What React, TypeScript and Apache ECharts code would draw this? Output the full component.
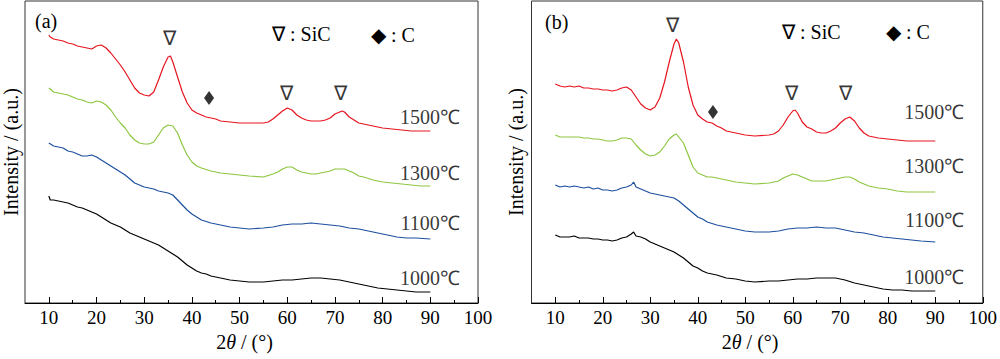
import React, { useEffect, useRef } from "react";
import * as echarts from "echarts";

const FONT = "Liberation Serif";

const XTICKS = [10, 20, 30, 40, 50, 60, 70, 80, 90, 100];
const XMINOR = [15, 25, 35, 45, 55, 65, 75, 85, 95];
const TEMPS = ["1500℃", "1300℃", "1100℃", "1000℃"];
const COLORS = ["#e6141e", "#8dc63f", "#1d4f9e", "#000000"];

// Panel (a)
const a1500 = [[10,268],[10.3,266],[11,264],[12,263],[13,262],[14,260],[15,259],[16,257],[17,256],[18,255],[19,254],[20,257],[21,258],[22,255],[23,250],[24,244],[25,238],[26,231],[27,223],[28,215],[29,210],[30,208],[31,207],[32,211],[33,223],[34,236],[35,246],[35.5,247],[36,241],[37,226],[38,211],[39,200],[40,193],[41,190],[42,188],[43,186],[44,185],[45,184],[46,182],[48,181],[50,180],[52,180],[54,180],[55,180],[56,181],[57,184],[58,188],[59,192],[60,195],[61,193],[62,188],[63,185],[64,183],[65,182],[66,182],[67,182],[68,183],[69,185],[70,189],[71,191],[71.5,192],[72,191],[73,186],[74,183],[75,180],[76,179],[78,177],[80,175],[82,174],[84,173],[86,172],[88,172],[90,172]];
const a1300 = [[10,215],[11,211],[12,210],[13,209],[14,208],[15,206],[16,204],[17,203],[18,201],[19,200],[20,202],[21,201],[22,198],[23,193],[24,186],[25,180],[26,175],[27,168],[28,163],[29,160],[30,159],[31,159],[32,161],[33,168],[34,175],[35,178],[36,177],[37,170],[38,158],[39,148],[40,141],[41,137],[42,135],[44,132],[46,130],[48,129],[50,128],[52,127],[55,126],[57,129],[58,131],[59,134],[60,136],[61,136],[62,133],[63,131],[64,130],[65,129],[66,129],[67,130],[68,131],[69,132],[70,134],[71,134],[72,134],[73,132],[74,130],[75,127],[76,126],[78,123],[80,121],[82,120],[84,119],[86,118],[88,117],[90,117]];
const a1100 = [[10,160],[11,157],[12,156],[13,155],[14,152],[15,151],[16,149],[17,147],[18,147],[19,148],[20,146],[21,143],[22,140],[23,137],[24,134],[25,131],[26,128],[27,124],[28,120],[29,118],[30,116],[31,115],[32,114],[33,112],[34,111],[35,110],[36,108],[37,103],[38,98],[39,93],[40,89],[41,86],[42,83],[44,80],[46,78],[48,76],[50,75],[52,74],[55,75],[57,76],[59,78],[61,79],[63,79],[65,80],[67,79],[69,78],[71,77],[73,75],[75,74],[77,72],[79,70],[81,68],[83,66],[85,65],[87,65],[90,64]];
const a1000 = [[10,107],[10.3,103],[11,103],[12,102],[13,101],[14,100],[15,98],[16,96],[17,95],[18,93],[19,91],[20,89],[21,86],[22,83],[23,80],[24,78],[25,76],[26,73],[27,70],[28,68],[29,66],[30,64],[31,62],[32,60],[33,58],[34,55],[35,52],[36,49],[37,46],[38,42],[39,38],[40,35],[41,32],[42,30],[43,29],[44,27],[46,25],[48,23],[50,22],[52,21],[55,21],[57,22],[59,23],[61,23],[63,24],[65,25],[67,25],[69,24],[71,23],[73,21],[75,19],[77,17],[79,15],[81,14],[83,13],[85,12],[87,11],[90,11]];

// Panel (b)
const b1500 = [[10,219],[11,217],[12,216],[13,217],[14,216],[15,217],[16,215],[17,215],[18,214],[19,214],[20,213],[21,213],[22,212],[23,213],[24,215],[25,216],[26,213],[27,206],[28,199],[29,195],[30,193],[31,196],[32,205],[33,221],[34,241],[35,259],[35.5,264],[36,260],[37,241],[38,216],[39,198],[40,188],[41,184],[42,181],[43,180],[44,177],[45,175],[46,172],[47,171],[48,170],[50,168],[52,167],[55,168],[56,169],[57,172],[58,178],[59,186],[60,192],[60.5,193],[61,190],[62,181],[63,176],[64,174],[65,171],[66,170],[67,170],[68,172],[69,175],[70,180],[71,184],[72,186],[73,182],[74,175],[75,170],[76,167],[78,165],[80,164],[82,163],[84,162],[86,162],[88,162],[90,162]];
const b1300 = [[10,168],[11,166],[12,166],[13,166],[14,166],[15,166],[16,165],[17,165],[18,164],[19,164],[20,163],[21,162],[22,162],[23,163],[24,165],[25,165],[26,164],[27,158],[28,153],[29,149],[30,147],[31,148],[32,151],[33,157],[34,164],[35,168],[35.5,169],[36,166],[37,160],[38,148],[39,136],[40,130],[41,128],[42,126],[43,126],[44,125],[46,123],[48,121],[50,120],[52,119],[55,120],[57,122],[58,125],[59,127],[60,129],[61,128],[62,126],[63,124],[64,122],[65,122],[66,122],[67,122],[68,123],[69,124],[70,125],[71,126],[72,126],[73,124],[74,121],[75,119],[76,117],[78,115],[80,114],[82,112],[84,111],[86,111],[88,111],[90,111]];
const b1100 = [[10,118],[11,116],[12,117],[13,116],[14,117],[15,116],[16,115],[17,116],[18,114],[19,115],[20,113],[21,113],[22,112],[23,113],[24,115],[25,116],[26,118],[26.5,121],[27,116],[28,114],[29,112],[30,110],[31,109],[32,108],[33,107],[34,106],[35,105],[36,102],[37,98],[38,94],[39,90],[40,86],[41,84],[42,81],[44,78],[46,76],[48,74],[50,72],[52,71],[55,71],[57,72],[59,74],[61,75],[63,75],[65,76],[67,75],[69,75],[71,73],[73,71],[75,70],[77,68],[79,66],[81,65],[83,64],[85,63],[87,62],[90,61]];
const b1000 = [[10,68],[11,66],[12,66],[13,66],[14,67],[15,65],[16,65],[17,65],[18,64],[19,64],[20,63],[21,63],[22,62],[23,63],[24,65],[25,66],[26,69],[26.5,71],[27,67],[28,66],[29,64],[30,61],[31,59],[32,57],[33,55],[34,53],[35,51],[36,48],[37,45],[38,41],[39,37],[40,35],[41,32],[42,30],[43,29],[44,28],[46,25],[48,24],[50,22],[52,21],[55,22],[57,22],[59,23],[61,24],[63,24],[65,25],[67,25],[69,25],[71,23],[73,20],[75,18],[77,16],[79,14],[81,13],[83,13],[85,12],[87,12],[90,12]];

// Peak annotation anchors (2θ, intensity)
const SIC_A = [[35.2, 265], [59.8, 210], [71.1, 210]];
const C_A = [[43.6, 205]];
const SIC_B = [[34.6, 278], [59.8, 210], [71.2, 210]];
const C_B = [[43.2, 191]];
// Temperature label anchors (right edge)
const LBL_A = [[96.2, 186], [96.2, 130], [96.2, 80], [96.2, 25]];
const LBL_B = [[96.1, 191], [96.1, 137], [96.1, 83], [96.1, 26]];

const SERIES_A = [a1500, a1300, a1100, a1000];
const SERIES_B = [b1500, b1300, b1100, b1000];

function xAxes(gridIndex: number) {
  return [
    {
      gridIndex,
      type: "value",
      min: 5,
      max: 100,
      position: "bottom",
      axisLine: { show: true, onZero: false, lineStyle: { color: "#000", width: 1 } },
      axisTick: { show: true, inside: true, length: 6, customValues: XTICKS, lineStyle: { color: "#000", width: 1 } },
      axisLabel: { show: true, customValues: XTICKS, fontSize: 19, fontFamily: FONT, color: "#000", margin: 5 },
      splitLine: { show: false },
      name: "2{i|θ} / (°)",
      nameLocation: "middle",
      nameGap: 26,
      nameTextStyle: {
        fontSize: 20,
        fontFamily: FONT,
        color: "#000",
        padding: [0, 14, 0, 0],
        rich: { i: { fontStyle: "italic", fontSize: 20, fontFamily: FONT, color: "#000" } },
      },
    },
    {
      gridIndex,
      type: "value",
      min: 5,
      max: 100,
      position: "bottom",
      axisLine: { show: false },
      axisTick: { show: true, inside: true, length: 3, customValues: XMINOR, lineStyle: { color: "#000", width: 1 } },
      axisLabel: { show: false },
      splitLine: { show: false },
    },
  ];
}

function yAxis(gridIndex: number, gap: number) {
  return {
    gridIndex,
    type: "value",
    min: 0,
    max: 302,
    axisLine: { show: false },
    axisTick: { show: false },
    axisLabel: { show: false },
    splitLine: { show: false },
    name: "Intensity / (a.u.)",
    nameLocation: "middle",
    nameGap: gap,
    nameTextStyle: { fontSize: 20, fontFamily: FONT, color: "#000" },
  };
}

function panelSeries(data: number[][][], sic: number[][], c: number[][], lbl: number[][], xi: number, yi: number) {
  const s: any[] = data.map((d, i) => ({
    type: "line",
    xAxisIndex: xi,
    yAxisIndex: yi,
    data: d,
    showSymbol: false,
    symbol: "none",
    silent: true,
    lineStyle: { color: COLORS[i], width: 1.2 },
    z: 2,
  }));
  s.push({
    type: "scatter",
    xAxisIndex: xi,
    yAxisIndex: yi,
    silent: true,
    symbolSize: 0,
    data: sic,
    label: { show: true, position: "inside", formatter: () => "∇", fontSize: 20, fontFamily: FONT, color: "#000" },
  });
  s.push({
    type: "scatter",
    xAxisIndex: xi,
    yAxisIndex: yi,
    silent: true,
    symbol: "diamond",
    symbolSize: [10, 14],
    itemStyle: { color: "#000" },
    data: c,
  });
  s.push({
    type: "scatter",
    xAxisIndex: xi,
    yAxisIndex: yi,
    silent: true,
    symbolSize: 0,
    data: lbl.map((p, i) => ({ value: p, name: TEMPS[i] })),
    label: {
      show: true,
      position: "left",
      distance: 0,
      formatter: (p: any) => p.name,
      fontSize: 20,
      fontFamily: FONT,
      color: "#000",
    },
  });
  return s;
}

export default function App() {
  const ref = useRef<HTMLDivElement>(null);
  useEffect(() => {
    if (!ref.current) return;
    const chart = echarts.init(ref.current, undefined, { renderer: "svg" });
    const legendText = (left: number, top: number, text: string) => ({
      type: "text",
      left,
      top,
      style: { text, fontSize: 20, fontFamily: FONT, fill: "#000" },
    });
    chart.setOption({
      animation: false,
      backgroundColor: "#fff",
      textStyle: { fontFamily: FONT },
      grid: [
        { left: 24.5, top: 1, width: 453.5, height: 302, show: true, borderColor: "#333", borderWidth: 1, containLabel: false },
        { left: 531.5, top: 1, width: 453, height: 302, show: true, borderColor: "#333", borderWidth: 1, containLabel: false },
      ],
      title: [
        { text: "(a)", left: 35, top: 11, padding: 0, textStyle: { fontSize: 20, fontWeight: "normal", fontFamily: FONT, color: "#000" } },
        { text: "(b)", left: 545, top: 12, padding: 0, textStyle: { fontSize: 20, fontWeight: "normal", fontFamily: FONT, color: "#000" } },
      ],
      xAxis: [...xAxes(0), ...xAxes(1)],
      yAxis: [yAxis(0, 4), yAxis(1, 6)],
      graphic: [
        legendText(272, 24, "∇ : SiC"),
        legendText(371, 25, "◆ : C"),
        legendText(782, 22, "∇ : SiC"),
        legendText(886, 22, "◆ : C"),
      ],
      series: [
        ...panelSeries(SERIES_A, SIC_A, C_A, LBL_A, 0, 0),
        ...panelSeries(SERIES_B, SIC_B, C_B, LBL_B, 2, 1),
      ],
    });
    return () => chart.dispose();
  }, []);
  return (
    <div
      ref={ref}
      style={{ position: "fixed", left: 0, top: 0, width: 1000, height: 359, background: "#fff" }}
    />
  );
}
